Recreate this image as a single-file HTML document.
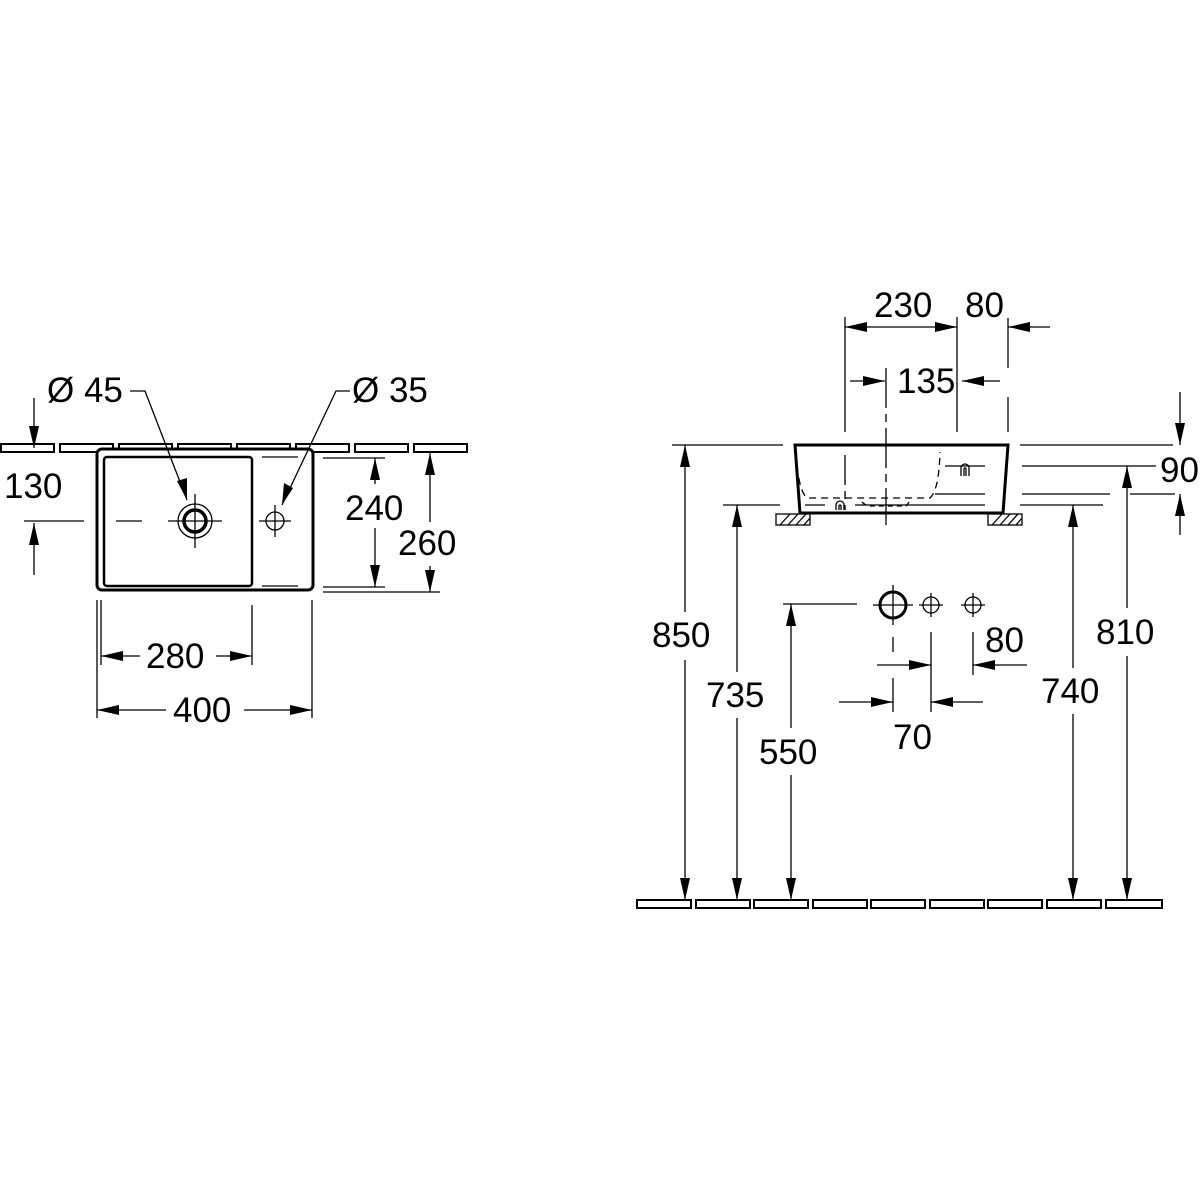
<!DOCTYPE html>
<html><head><meta charset="utf-8"><style>
html,body{margin:0;padding:0;background:#fff}
svg{display:block}
text{font-family:"Liberation Sans",sans-serif;font-size:35px;fill:#000}
</style></head><body>
<svg width="1200" height="1200" viewBox="0 0 1200 1200" xmlns="http://www.w3.org/2000/svg">
<g stroke="#000" fill="none" stroke-width="1.3">
<g stroke-width="2">
<rect x="1" y="444" width="53" height="8"/><rect x="60" y="444" width="53" height="8"/><rect x="119" y="444" width="53" height="8"/><rect x="178" y="444" width="53" height="8"/><rect x="237" y="444" width="53" height="8"/><rect x="296" y="444" width="53" height="8"/><rect x="355" y="444" width="53" height="8"/><rect x="414" y="444" width="53" height="8"/>
</g>
<rect x="97" y="449" width="216" height="141" rx="5" fill="#fff" stroke-width="3"/>
<rect x="104" y="457" width="148" height="129" rx="3" stroke-width="2.5"/>
<line x1="262" y1="457" x2="298" y2="457"/><line x1="262" y1="586" x2="298" y2="586"/>
<circle cx="195" cy="521" r="17"/><circle cx="195" cy="521" r="11" stroke-width="3.5"/>
<line x1="168" y1="521" x2="222" y2="521"/><line x1="195" y1="494" x2="195" y2="548"/>
<circle cx="275" cy="521" r="9"/><line x1="259" y1="521" x2="291" y2="521"/><line x1="275" y1="505" x2="275" y2="537"/>
<line x1="116" y1="521" x2="142" y2="521"/><line x1="24" y1="521" x2="84" y2="521"/>
<polyline points="130,391 145,391 187,500"/>
<polyline points="350,391 336,391 282,505"/>
<line x1="34" y1="398" x2="34" y2="448"/><line x1="34" y1="523" x2="34" y2="575"/>
<line x1="323" y1="458" x2="385" y2="458"/><line x1="323" y1="587" x2="385" y2="587"/>
<line x1="375" y1="458" x2="375" y2="484"/><line x1="375" y1="528" x2="375" y2="587"/>
<line x1="323" y1="592" x2="440" y2="592"/>
<line x1="430" y1="453" x2="430" y2="522"/><line x1="430" y1="566" x2="430" y2="592"/>
<line x1="101" y1="600" x2="101" y2="665"/><line x1="252" y1="605" x2="252" y2="665"/>
<line x1="97" y1="600" x2="97" y2="718"/><line x1="312" y1="600" x2="312" y2="718"/>
<line x1="101" y1="656" x2="140" y2="656"/><line x1="216" y1="656" x2="252" y2="656"/>
<line x1="97" y1="710" x2="166" y2="710"/><line x1="244" y1="710" x2="312" y2="710"/>

<g stroke-width="2">
<rect x="637" y="900" width="54" height="8"/><rect x="696" y="900" width="54" height="8"/><rect x="754" y="900" width="54" height="8"/><rect x="813" y="900" width="54" height="8"/><rect x="871" y="900" width="54" height="8"/><rect x="930" y="900" width="54" height="8"/><rect x="988" y="900" width="54" height="8"/><rect x="1047" y="900" width="54" height="8"/><rect x="1106" y="900" width="56" height="8"/>
</g>
<polygon points="795,445 1008,445 1003,513 800,513" stroke-width="3"/>
<path d="M796,454 Q799,495 808,498 L930,498 Q939,490 940,452" stroke-dasharray="7,5"/>
<path d="M862,502 Q866,506 870,506 L906,506 Q909,503 910,500" stroke-dasharray="5,4"/>
<line x1="805" y1="505" x2="825" y2="505"/><line x1="855" y1="505" x2="985" y2="505"/>
<line x1="945" y1="466" x2="985" y2="466"/><line x1="935" y1="494" x2="985" y2="494"/>
<path d="M836,510 v-5 a4,4 0 0 1 8,0 v5 M839,510 v-4 a1,1 0 0 1 2,0 v4"/>
<path d="M961,476 v-8 a4,4 0 0 1 8,0 v8 M964,476 v-7 a1,1 0 0 1 2,0 v7"/>
<rect x="776" y="514" width="34" height="11"/><rect x="988" y="514" width="34" height="11"/>
<path d="M780,525 l10,-11 M788,525 l10,-11 M796,525 l10,-11 M804,525 l6,-7 M992,525 l10,-11 M1000,525 l10,-11 M1008,525 l10,-11 M1016,525 l6,-7"/>
<line x1="845" y1="317" x2="845" y2="432"/><line x1="957" y1="317" x2="957" y2="432"/>
<line x1="1008" y1="318" x2="1008" y2="368"/><line x1="1008" y1="397" x2="1008" y2="432"/>
<line x1="845" y1="327" x2="957" y2="327"/><line x1="1008" y1="327" x2="1050" y2="327"/>
<line x1="850" y1="381" x2="885" y2="381"/><line x1="962" y1="381" x2="1000" y2="381"/>
<line x1="886" y1="368" x2="886" y2="525" stroke-dasharray="40,6,8,6"/>
<line x1="845" y1="455" x2="845" y2="510" stroke-dasharray="30,6,8,6"/>
<line x1="1180" y1="392" x2="1180" y2="445"/><line x1="1020" y1="445" x2="1173" y2="445"/>
<line x1="1022" y1="466" x2="1156" y2="466"/><line x1="1022" y1="494" x2="1110" y2="494"/><line x1="1130" y1="494" x2="1175" y2="494"/>
<line x1="1180" y1="494" x2="1180" y2="535"/>
<line x1="672" y1="445" x2="783" y2="445"/>
<line x1="685" y1="445" x2="685" y2="612"/><line x1="685" y1="660" x2="685" y2="900"/>
<line x1="723" y1="505" x2="780" y2="505"/>
<line x1="737" y1="505" x2="737" y2="672"/><line x1="737" y1="718" x2="737" y2="900"/>
<line x1="783" y1="604" x2="857" y2="604"/>
<line x1="791" y1="604" x2="791" y2="728"/><line x1="791" y1="775" x2="791" y2="900"/>
<line x1="1020" y1="505" x2="1103" y2="505"/>
<line x1="1073" y1="505" x2="1073" y2="668"/><line x1="1073" y1="714" x2="1073" y2="900"/>
<line x1="1127" y1="466" x2="1127" y2="608"/><line x1="1127" y1="656" x2="1127" y2="900"/>
<circle cx="893" cy="605" r="13" stroke-width="3"/><line x1="873" y1="605" x2="913" y2="605"/><line x1="893" y1="585" x2="893" y2="625"/>
<circle cx="931" cy="605" r="8"/><line x1="919" y1="605" x2="943" y2="605"/><line x1="931" y1="593" x2="931" y2="617"/>
<circle cx="973" cy="605" r="8"/><line x1="961" y1="605" x2="985" y2="605"/><line x1="973" y1="593" x2="973" y2="617"/>
<line x1="893" y1="637" x2="893" y2="652"/><line x1="893" y1="678" x2="893" y2="712"/>
<line x1="931" y1="632" x2="931" y2="712"/><line x1="973" y1="632" x2="973" y2="675"/>
<line x1="877" y1="665" x2="931" y2="665"/><line x1="973" y1="665" x2="1027" y2="665"/>
<line x1="839" y1="702" x2="893" y2="702"/><line x1="931" y1="702" x2="983" y2="702"/>
</g>
<g fill="#000">
<polygon points="34,448 29,426 39,426"/><polygon points="34,523 29,545 39,545"/>
<polygon points="187,500 177,481 187,478"/><polygon points="282,505 284,483 293,488"/>
<polygon points="375,458 370,480 380,480"/><polygon points="375,587 370,565 380,565"/>
<polygon points="430,453 425,475 435,475"/><polygon points="430,592 425,570 435,570"/>
<polygon points="101,656 123,651 123,661"/><polygon points="252,656 230,651 230,661"/>
<polygon points="97,710 119,705 119,715"/><polygon points="312,710 290,705 290,715"/>
<polygon points="845,327 867,322 867,332"/><polygon points="957,327 935,322 935,332"/><polygon points="1008,327 1030,322 1030,332"/>
<polygon points="885,381 863,376 863,386"/><polygon points="962,381 984,376 984,386"/>
<polygon points="1180,445 1175,423 1185,423"/><polygon points="1180,494 1175,516 1185,516"/>
<polygon points="685,445 680,467 690,467"/><polygon points="685,900 680,878 690,878"/>
<polygon points="737,505 732,527 742,527"/><polygon points="737,900 732,878 742,878"/>
<polygon points="791,604 786,626 796,626"/><polygon points="791,900 786,878 796,878"/>
<polygon points="1073,505 1068,527 1078,527"/><polygon points="1073,900 1068,878 1078,878"/>
<polygon points="1127,466 1122,488 1132,488"/><polygon points="1127,900 1122,878 1132,878"/>
<polygon points="931,665 909,660 909,670"/><polygon points="973,665 995,660 995,670"/>
<polygon points="893,702 871,697 871,707"/><polygon points="931,702 953,697 953,707"/>
</g>
<text x="47" y="402">Ø 45</text>
<text x="352" y="402">Ø 35</text>
<text x="4" y="498">130</text>
<text x="345" y="520">240</text>
<text x="398" y="555">260</text>
<text x="146" y="668">280</text>
<text x="173" y="722">400</text>
<text x="874" y="317">230</text>
<text x="965" y="317">80</text>
<text x="897" y="393">135</text>
<text x="1160" y="482">90</text>
<text x="652" y="647">850</text>
<text x="706" y="707">735</text>
<text x="759" y="764">550</text>
<text x="1041" y="703">740</text>
<text x="1096" y="644">810</text>
<text x="985" y="652">80</text>
<text x="893" y="749">70</text>
</svg>
</body></html>
